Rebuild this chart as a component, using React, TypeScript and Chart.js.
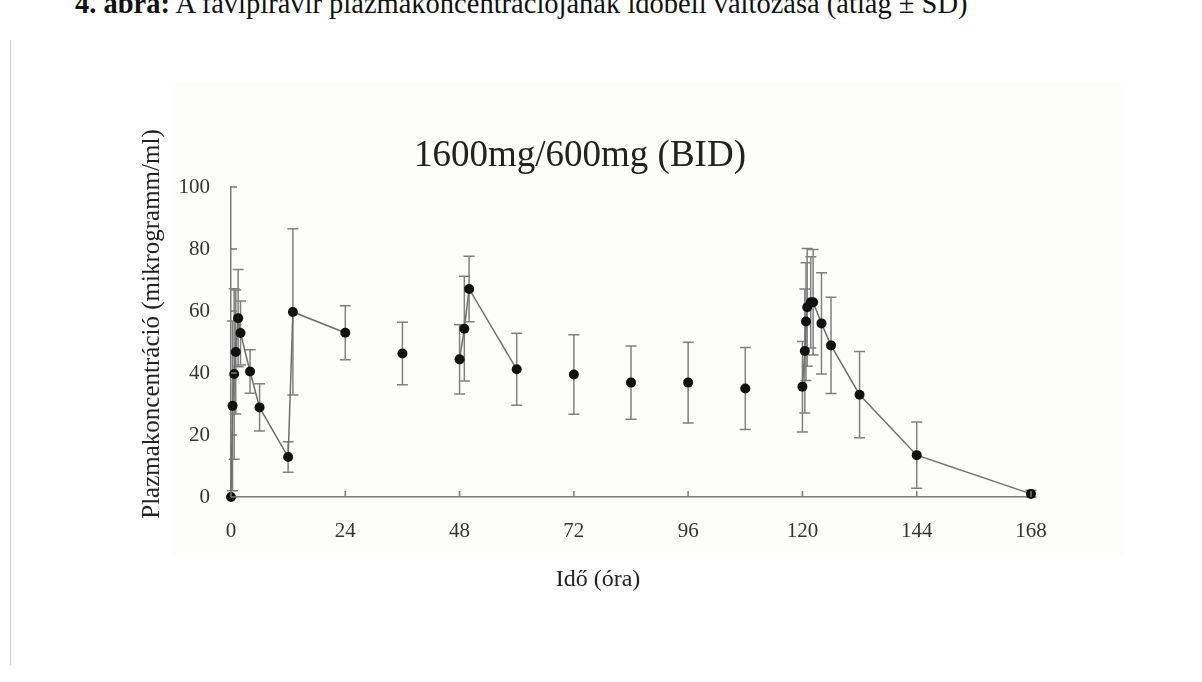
import React, { useEffect, useRef } from "react";
import { Chart, registerables } from "chart.js";

Chart.register(...registerables);

// ---- data ----
const times = [0, 0.33, 0.67, 1, 1.5, 2, 4, 6, 12, 13, 24, 36, 48, 49, 50, 60, 72, 84, 96, 108, 120, 120.5, 120.75, 121, 121.75, 122.25, 124, 126, 132, 144, 168];
const means = [0, 29.4, 39.7, 46.8, 57.7, 52.9, 40.5, 28.9, 12.9, 59.7, 53, 46.3, 44.4, 54.3, 67.1, 41.2, 39.5, 36.9, 36.9, 35, 35.6, 47.1, 56.6, 61.2, 62.8, 62.8, 56, 48.9, 33, 13.5, 1];
const sds = [0, 27.4, 27.5, 20, 15.7, 10.3, 7, 7.6, 4.9, 26.8, 8.7, 10.1, 11.2, 16.9, 10.6, 11.6, 12.8, 11.8, 13, 13.2, 14.6, 20, 19, 19, 14.7, 17, 16.3, 15.5, 13.9, 10.7, 1.2];
// profile each sample belongs to (0 = isolated trough sample, not joined by a line)
const segments = [1, 1, 1, 1, 1, 1, 1, 1, 1, 1, 1, 0, 2, 2, 2, 2, 0, 0, 0, 0, 3, 3, 3, 3, 3, 3, 3, 3, 3, 3, 3];
const xTickValues = [0, 24, 48, 72, 96, 120, 144, 168];
const yTickValues = [0, 20, 40, 60, 80, 100];

const captionBold = "4. ábra:";
const captionText = " A favipiravir plazmakoncentrációjának időbeli változása (átlag ± SD)";
const chartTitle = "1600mg/600mg (BID)";
const xTitle = "Idő (óra)";
const yTitle = "Plazmakoncentráció (mikrogramm/ml)";

const SERIF = "'Liberation Serif', 'Times New Roman', serif";

const errorBarPlugin = {
  id: "errorBars",
  beforeDatasetsDraw(chart: any) {
    const { ctx, scales } = chart;
    const xs = scales.x;
    const ys = scales.y;
    ctx.save();
    ctx.strokeStyle = "#808080";
    ctx.lineWidth = 1.5;
    const cap = 5.5;
    times.forEach((t, i) => {
      if (!sds[i]) return;
      const x = xs.getPixelForValue(t);
      const yTop = ys.getPixelForValue(means[i] + sds[i]);
      const yBot = ys.getPixelForValue(Math.max(means[i] - sds[i], 0));
      ctx.beginPath();
      ctx.moveTo(x, yTop);
      ctx.lineTo(x, yBot);
      ctx.moveTo(x - cap, yTop);
      ctx.lineTo(x + cap, yTop);
      ctx.moveTo(x - cap, yBot);
      ctx.lineTo(x + cap, yBot);
      ctx.stroke();
    });
    ctx.restore();
  },
};

const decorPlugin = {
  id: "decor",
  afterDraw(chart: any) {
    const { ctx, scales, chartArea } = chart;
    const xs = scales.x;
    const ys = scales.y;
    ctx.save();
    // inward tick marks
    ctx.strokeStyle = "#7a7a7a";
    ctx.lineWidth = 1.5;
    ctx.beginPath();
    yTickValues.forEach((v) => {
      const y = ys.getPixelForValue(v);
      ctx.moveTo(chartArea.left, y);
      ctx.lineTo(chartArea.left + 6, y);
    });
    xTickValues.forEach((v) => {
      const x = xs.getPixelForValue(v);
      ctx.moveTo(x, chartArea.bottom);
      ctx.lineTo(x, chartArea.bottom - 6);
    });
    ctx.stroke();
    // axis titles
    ctx.fillStyle = "#222";
    ctx.font = `24px ${SERIF}`;
    ctx.textAlign = "center";
    ctx.textBaseline = "middle";
    ctx.fillText(xTitle, 598, 580);
    ctx.font = `25px ${SERIF}`;
    ctx.translate(152, 324);
    ctx.rotate(-Math.PI / 2);
    ctx.fillText(yTitle, 0, 0);
    ctx.restore();
  },
};

export default function App() {
  const canvasRef = useRef<HTMLCanvasElement | null>(null);

  useEffect(() => {
    if (!canvasRef.current) return;
    const points = times.map((t, i) => ({ x: t, y: means[i] }));
    const segIds = Array.from(new Set(segments.filter((s) => s > 0)));
    const lineSets = segIds.map((id) => ({
      label: `profile ${id}`,
      data: points.filter((_, i) => segments[i] === id),
      showLine: true,
      borderColor: "#6e6e6e",
      borderWidth: 1.5,
      pointRadius: 0,
      pointHoverRadius: 0,
      fill: false,
      tension: 0,
      clip: false as any,
      order: 2,
    }));
    const chart = new Chart(canvasRef.current, {
      type: "scatter",
      data: {
        datasets: [
          ...lineSets,
          {
            label: "mean",
            data: points,
            showLine: false,
            pointRadius: 5,
            pointHoverRadius: 5,
            pointBackgroundColor: "#111",
            pointBorderColor: "#111",
            pointBorderWidth: 0,
            clip: false as any,
            order: 1,
          },
        ] as any,
      },
      options: {
        animation: false,
        responsive: false,
        devicePixelRatio: 1,
        layout: { padding: { left: 129, right: 171, top: 134, bottom: 0 } },
        plugins: {
          legend: { display: false },
          tooltip: { enabled: false },
          title: {
            display: true,
            text: chartTitle,
            color: "#222",
            font: { family: SERIF, size: 37, weight: "normal" as any },
            padding: { top: 0, bottom: 8.6 },
          },
        },
        scales: {
          x: {
            type: "linear",
            min: 0,
            max: 168,
            afterBuildTicks: (s: any) => {
              s.ticks = xTickValues.map((v) => ({ value: v }));
            },
            afterFit: (s: any) => {
              s.height = 185;
            },
            grid: { display: false, drawTicks: false },
            border: { display: true, color: "#7a7a7a", width: 1.5 },
            ticks: {
              color: "#333",
              padding: 22,
              font: { family: SERIF, size: 21 },
              maxRotation: 0,
            },
          },
          y: {
            type: "linear",
            min: 0,
            max: 100,
            afterBuildTicks: (s: any) => {
              s.ticks = yTickValues.map((v) => ({ value: v }));
            },
            afterFit: (s: any) => {
              s.width = 102;
            },
            grid: { display: false, drawTicks: false },
            border: { display: true, color: "#7a7a7a", width: 1.5 },
            ticks: {
              color: "#333",
              padding: 21,
              font: { family: SERIF, size: 21 },
            },
          },
        },
      },
      plugins: [errorBarPlugin, decorPlugin],
    });
    return () => chart.destroy();
  }, []);

  return (
    <div
      style={{
        position: "absolute",
        left: 0,
        top: 0,
        width: 1202,
        height: 682,
        overflow: "hidden",
        background: "#fff",
      }}
    >
      <div
        style={{
          position: "absolute",
          left: 75,
          top: -10,
          whiteSpace: "nowrap",
          fontFamily: SERIF,
          fontSize: 28.5,
          lineHeight: "28px",
          color: "#111",
        }}
      >
        <b>{captionBold}</b>
        {captionText}
      </div>
      <div
        style={{
          position: "absolute",
          left: 10,
          top: 40,
          width: 1,
          height: 625,
          background: "#d2d2d2",
        }}
      />
      <div
        style={{
          position: "absolute",
          left: 173,
          top: 82,
          width: 950,
          height: 474,
          background: "#fdfdfc",
        }}
      />
      <canvas
        ref={canvasRef}
        width={1202}
        height={682}
        style={{ position: "absolute", left: 0, top: 0, width: 1202, height: 682 }}
      />
    </div>
  );
}
